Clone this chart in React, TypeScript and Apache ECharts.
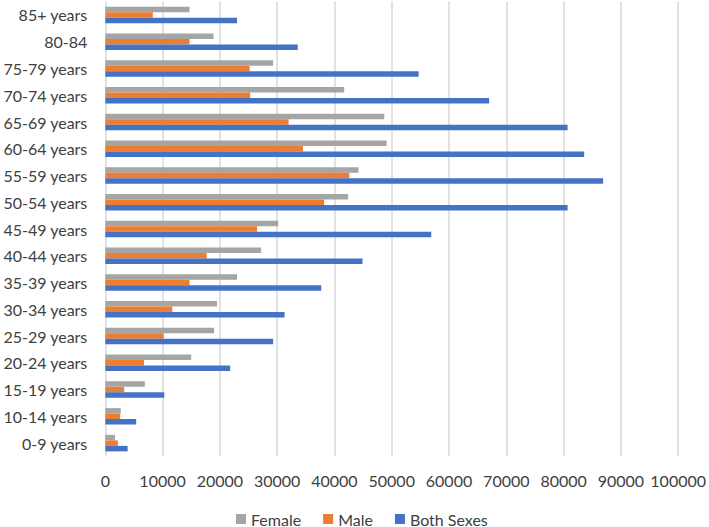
import React, { useEffect, useRef } from 'react';
import * as echarts from 'echarts';

// age groups, bottom to top
const categories = [
  '0-9 years', '10-14 years', '15-19 years', '20-24 years', '25-29 years',
  '30-34 years', '35-39 years', '40-44 years', '45-49 years', '50-54 years',
  '55-59 years', '60-64 years', '65-69 years', '70-74 years', '75-79 years',
  '80-84', '85+ years',
];

const female = [1700, 2700, 6900, 15000, 19000, 19500, 23000, 27200, 30200, 42400, 44200, 49100, 48700, 41700, 29300, 18900, 14700];
const male = [2200, 2600, 3300, 6750, 10200, 11700, 14700, 17700, 26500, 38200, 42600, 34500, 32000, 25300, 25200, 14700, 8300];
const bothSexes = [3900, 5400, 10300, 21800, 29300, 31300, 37700, 44900, 56900, 80700, 86900, 83600, 80700, 67000, 54700, 33600, 23000];

const legendNames = ['Female', 'Male', 'Both Sexes'];

const FONT = 'Lato, "Open Sans", sans-serif';
const TEXT = '#404040';

const App = () => {
  const chartRef = useRef<HTMLDivElement>(null);

  useEffect(() => {
    if (!chartRef.current) return;
    const chart = echarts.init(chartRef.current, undefined, { renderer: 'svg' });

    const bar = (name: string, data: number[], color: string) => ({
      name,
      type: 'bar' as const,
      data,
      barWidth: 5.5,
      barGap: '0%',
      itemStyle: { color },
    });

    chart.setOption({
      animation: false,
      textStyle: { fontFamily: FONT },
      grid: { left: 103, right: 28.5, top: 1.6, bottom: 70.5, containLabel: false },
      legend: {
        data: legendNames,
        bottom: 0,
        left: 236,
        padding: 0,
        itemWidth: 10,
        itemHeight: 10,
        itemGap: 22,
        icon: 'rect',
        textStyle: { color: TEXT, fontSize: 16, fontFamily: FONT },
      },
      xAxis: {
        type: 'value',
        min: 0,
        max: 100000,
        interval: 10000,
        axisLine: { show: false },
        axisTick: { show: false },
        axisLabel: {
          color: TEXT,
          fontSize: 16,
          margin: 16,
          fontFamily: FONT,
          formatter: (v: number) => String(v),
        },
        splitLine: { lineStyle: { color: '#d9d9d9', width: 1.5 } },
      },
      yAxis: {
        type: 'category',
        data: categories,
        axisLine: { show: false },
        axisTick: { show: false },
        axisLabel: { color: TEXT, fontSize: 16, margin: 18, fontFamily: FONT },
      },
      // series 0 sits at the top of each band
      series: [
        bar('Female', female, '#a5a5a5'),
        bar('Male', male, '#ed7d31'),
        bar('Both Sexes', bothSexes, '#4472c4'),
      ],
    });

    return () => {
      chart.dispose();
    };
  }, []);

  return (
    <div
      ref={chartRef}
      style={{ position: 'fixed', left: 0, top: 0, width: '709px', height: '527px', background: '#fff' }}
    ></div>
  );
};

export default App;
